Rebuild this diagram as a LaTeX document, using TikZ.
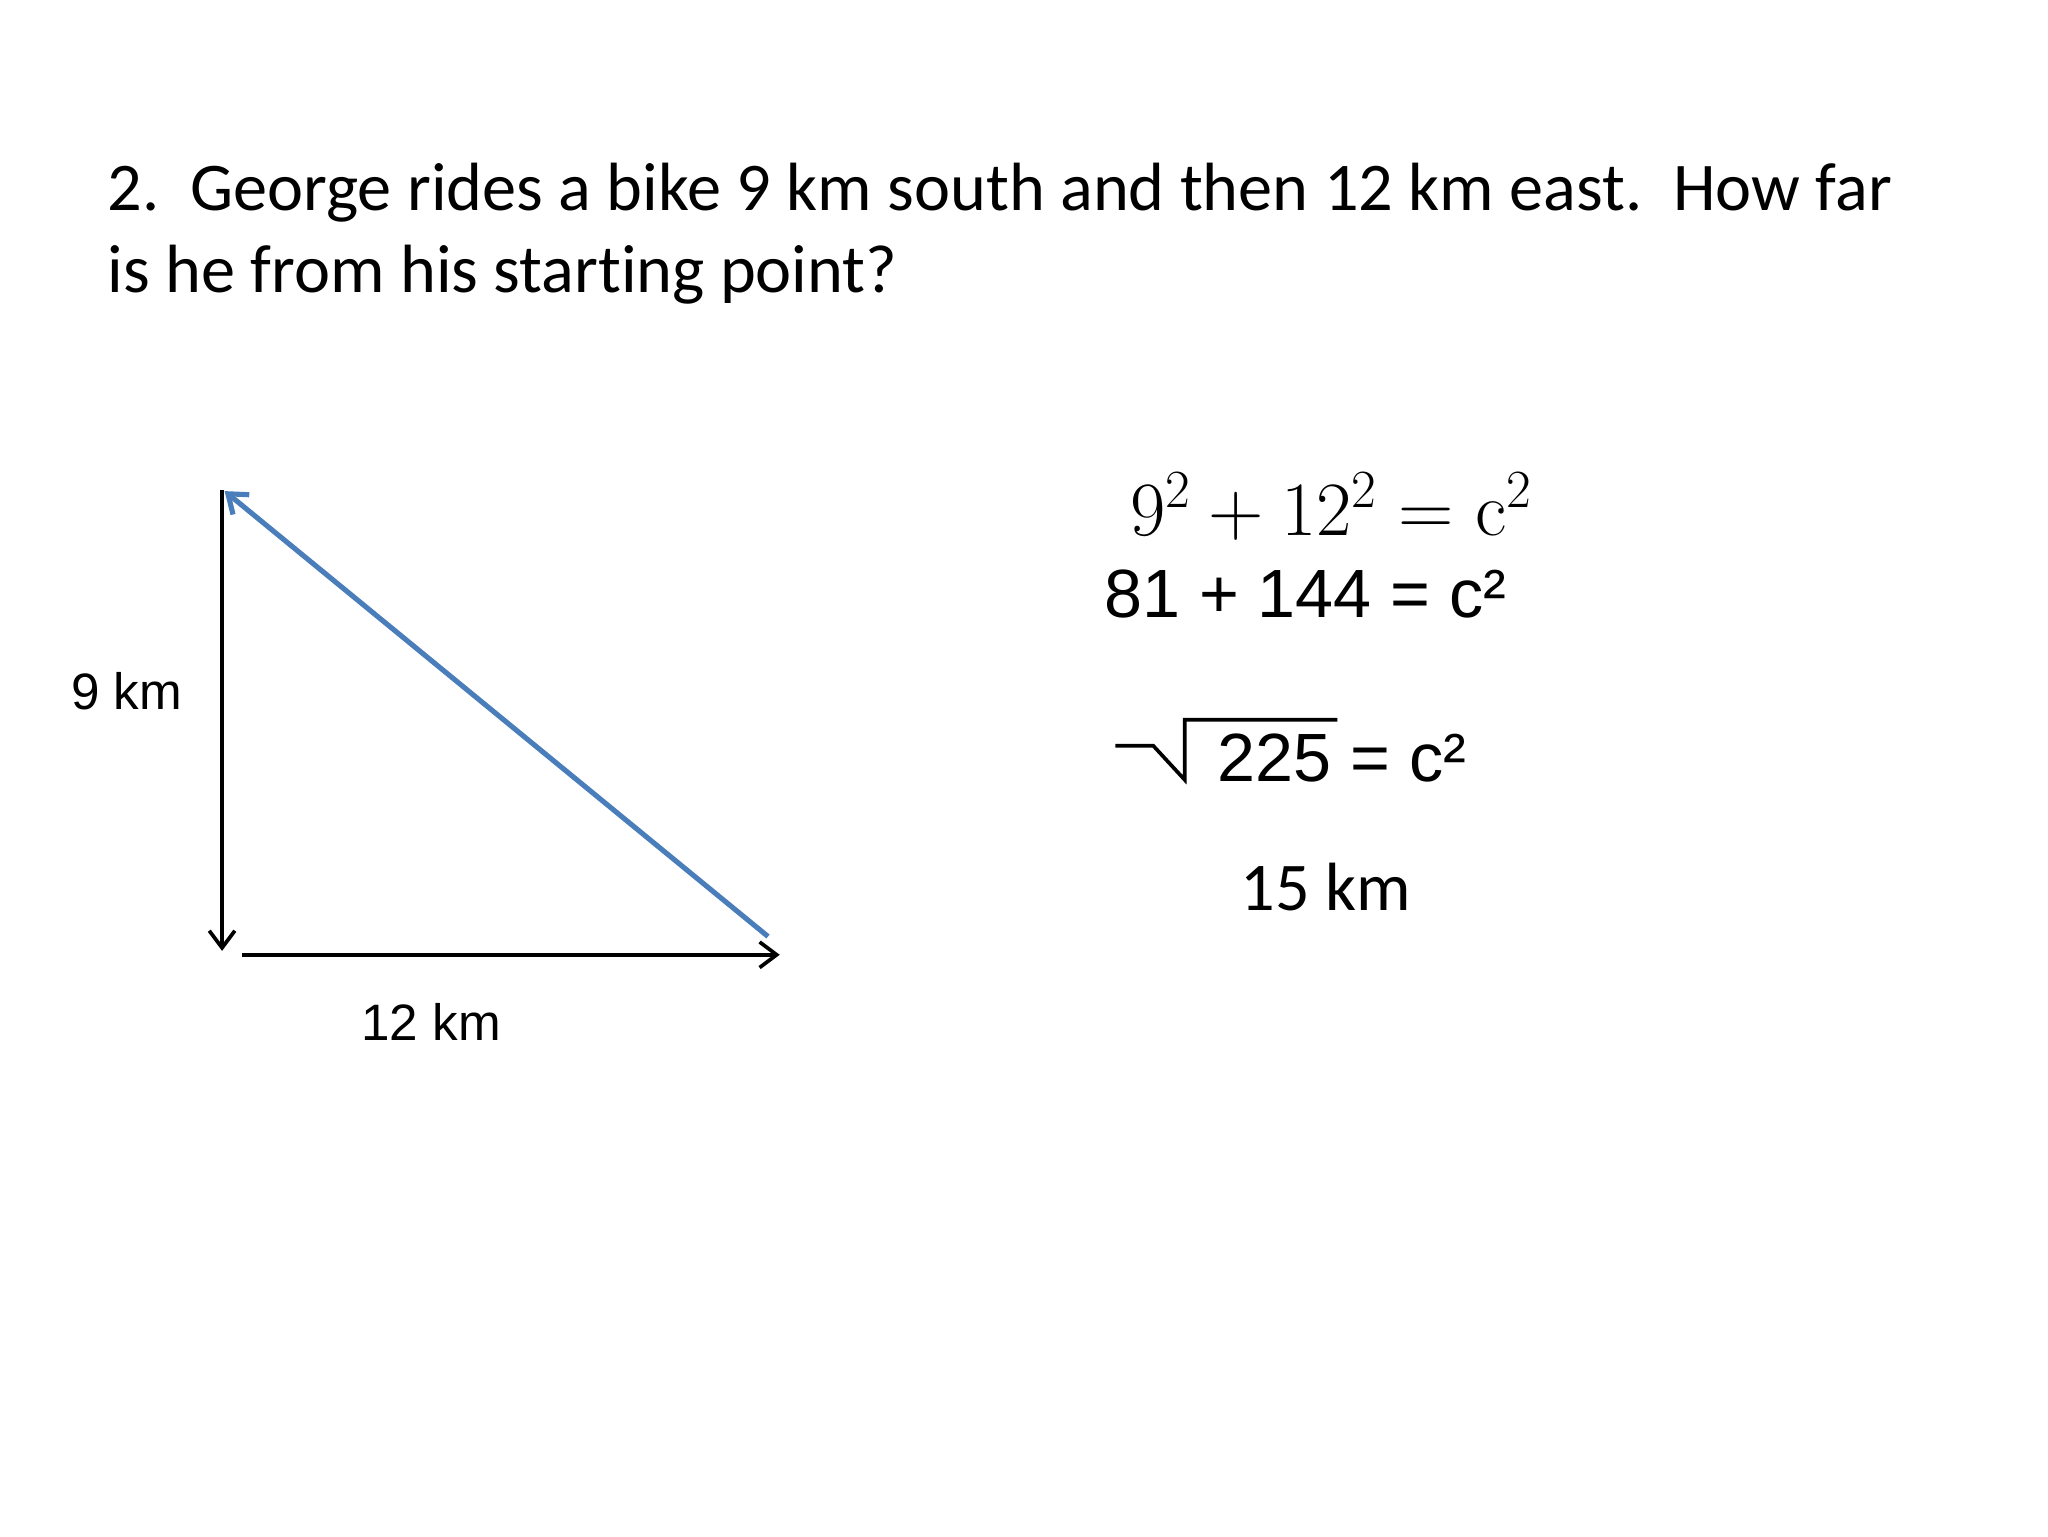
\RequirePackage{fix-cm}
\documentclass[tikz,border=0pt]{standalone}
\usepackage[no-math]{fontspec}
\setmainfont[Ligatures=NoCommon]{Carlito}
\newfontfamily\arial{Liberation Sans}
\usetikzlibrary{arrows.meta}
\definecolor{hypblue}{RGB}{74,126,187}
\begin{document}
\begin{tikzpicture}
  [x=0.4592pt,y=-0.4592pt,every node/.style={inner sep=0pt},
   leg/.style={line width=1.3pt,-{Straight Barb[length=6pt,width=9pt]}},
   calib/.style={font=\fontsize{24}{29}\selectfont},
   arial/.style={font=\arial\fontsize{24}{29}\selectfont}]
\useasboundingbox[fill=white] (0,0) rectangle (1568,1176);

\node (q1)[calib,anchor=base west] at (82,161) {2.\ \ George rides a bike 9 km south and then 12 km east.\ \ How far};
\node (q2)[calib,anchor=base west] at (82,224) {is he from his starting point?};

% triangle
\coordinate (top) at (170,375);
\coordinate (down) at (170,728);
\coordinate (east0) at (185,731);
\coordinate (east1) at (597,731);
\coordinate (end) at (588,717);
\draw[leg] (top) -- (down);
\draw[leg] (east0) -- (east1);
\draw[leg,hypblue,line width=1.8pt] (end) -- (172,376);
\node (south)[font=\arial\fontsize{18}{22}\selectfont,anchor=base] at (97,543) {9 km};
\node (eastlbl)[font=\arial\fontsize{18}{22}\selectfont,anchor=base] at (330,797) {12 km};

% working
\node (eq1)[anchor=base west,font=\fontsize{27}{32}\selectfont] at (865,410) {$9^2 + 12^2 = \mathrm{c}^2$};
\node (eq2)[arial,anchor=base west] at (845,473) {81 + 144 = c²};
\node (eq3)[arial,anchor=base west] at (932,598) {225 = c²};
\draw[line width=1.3pt] (854,571) -- (883,571) -- (907,597) -- (907,551) -- (1024,551);
\node (ans)[calib,anchor=base] at (1015,697) {15 km};
\end{tikzpicture}
\end{document}
